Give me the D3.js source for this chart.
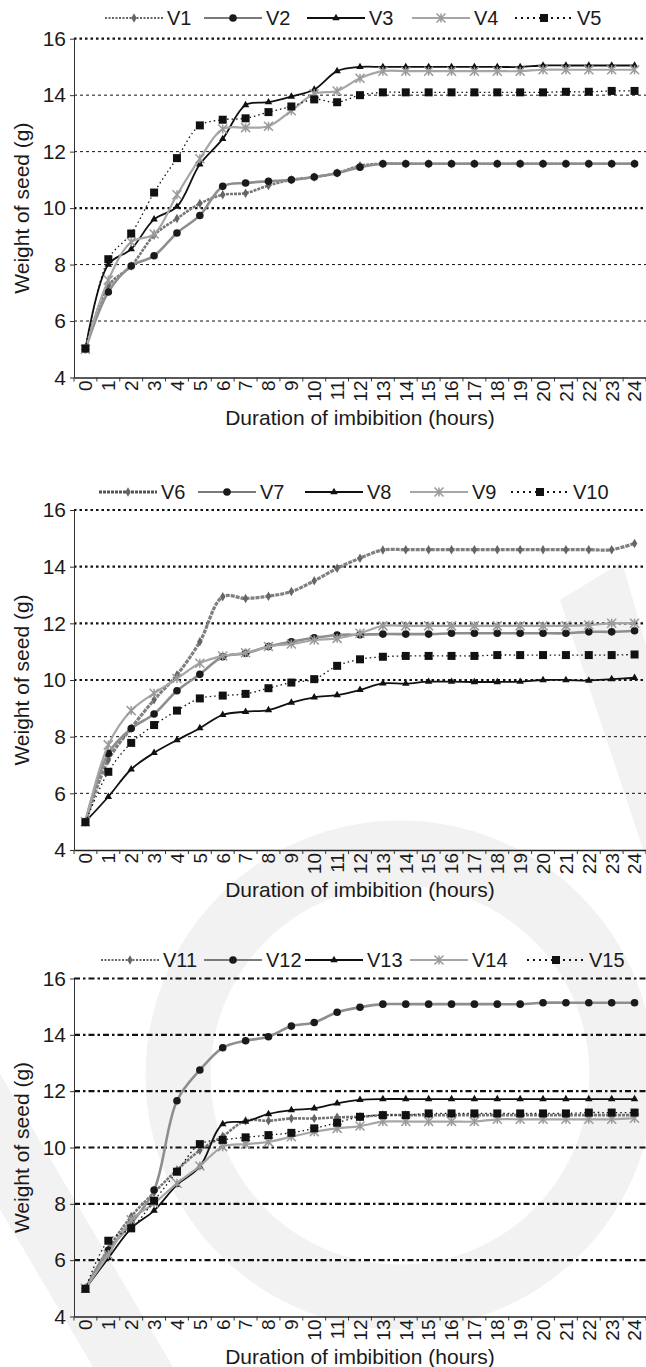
<!DOCTYPE html>
<html>
<head>
<meta charset="utf-8">
<script src="https://cdn.jsdelivr.net/npm/d3@7"></script>
<style>
    body { margin: 0; background: #fff; }
    svg { display: block; font-family: "Liberation Sans", Arial, sans-serif; }
</style>
</head>
<body>
<svg id="chart" width="646" height="1367"></svg>
<script>
// categories (hours of imbibition) and y ticks
const hours = ["0","1","2","3","4","5","6","7","8","9","10","11","12","13","14","15","16","17","18","19","20","21","22","23","24"];
const yTicks = [4, 6, 8, 10, 12, 14, 16];

// panel 1
const v1 = [5, 7.25, 7.95, 9.04, 9.63, 10.16, 10.47, 10.53, 10.8, 11.0, 11.1, 11.24, 11.5, 11.57, 11.57, 11.57, 11.57, 11.57, 11.57, 11.57, 11.57, 11.57, 11.57, 11.57, 11.57];
const v2 = [5, 7.03, 7.95, 8.31, 9.12, 9.74, 10.77, 10.89, 10.95, 11.0, 11.1, 11.24, 11.45, 11.57, 11.57, 11.57, 11.57, 11.57, 11.57, 11.57, 11.57, 11.57, 11.57, 11.57, 11.57];
const v3 = [5, 8.0, 8.55, 9.6, 10.05, 11.55, 12.45, 13.65, 13.75, 13.95, 14.2, 14.85, 15.0, 15.0, 15.0, 15.0, 15.0, 15.0, 15.0, 15.0, 15.05, 15.05, 15.05, 15.05, 15.05];
const v4 = [5, 7.45, 8.8, 9.08, 10.47, 11.75, 12.8, 12.85, 12.9, 13.45, 14.05, 14.15, 14.6, 14.85, 14.85, 14.85, 14.85, 14.85, 14.85, 14.85, 14.9, 14.9, 14.9, 14.9, 14.9];
const v5 = [5.03, 8.19, 9.1, 10.55, 11.77, 12.93, 13.13, 13.18, 13.4, 13.6, 13.85, 13.75, 14.0, 14.1, 14.1, 14.1, 14.1, 14.1, 14.1, 14.1, 14.1, 14.12, 14.12, 14.15, 14.15];

// panel 2
const v6 = [5, 7.18, 8.3, 9.3, 10.18, 11.35, 12.94, 12.88, 12.96, 13.12, 13.5, 13.94, 14.3, 14.59, 14.6, 14.6, 14.6, 14.6, 14.6, 14.6, 14.6, 14.6, 14.6, 14.6, 14.82];
const v7 = [5, 7.41, 8.29, 8.8, 9.62, 10.2, 10.82, 10.94, 11.18, 11.35, 11.49, 11.59, 11.6, 11.62, 11.62, 11.62, 11.65, 11.65, 11.65, 11.65, 11.65, 11.65, 11.7, 11.7, 11.74];
const v8 = [5, 5.88, 6.85, 7.43, 7.88, 8.3, 8.77, 8.88, 8.94, 9.2, 9.39, 9.47, 9.65, 9.88, 9.87, 9.94, 9.94, 9.93, 9.93, 9.94, 10.0, 10.0, 9.98, 10.03, 10.08];
const v9 = [5, 7.71, 8.92, 9.53, 10.05, 10.59, 10.85, 10.96, 11.18, 11.27, 11.41, 11.47, 11.65, 11.91, 11.91, 11.91, 11.91, 11.91, 11.91, 11.91, 11.91, 11.91, 11.94, 12.0, 12.0];
const v10 = [4.98, 6.76, 7.78, 8.41, 8.92, 9.35, 9.45, 9.51, 9.71, 9.91, 10.03, 10.5, 10.73, 10.82, 10.85, 10.85, 10.85, 10.85, 10.88, 10.88, 10.88, 10.88, 10.88, 10.88, 10.9];

// panel 3
const v11 = [5, 6.4, 7.55, 8.4, 9.2, 9.9, 10.4, 10.95, 10.95, 11.03, 11.03, 11.07, 11.09, 11.15, 11.15, 11.15, 11.15, 11.15, 11.15, 11.15, 11.15, 11.15, 11.15, 11.15, 11.15];
const v12 = [5, 6.35, 7.3, 8.49, 11.66, 12.75, 13.54, 13.79, 13.93, 14.31, 14.44, 14.8, 14.98, 15.09, 15.09, 15.09, 15.09, 15.09, 15.09, 15.09, 15.14, 15.14, 15.14, 15.14, 15.14];
const v13 = [5, 6.07, 7.13, 7.76, 8.67, 9.32, 10.83, 10.92, 11.19, 11.33, 11.39, 11.57, 11.69, 11.72, 11.72, 11.72, 11.72, 11.72, 11.72, 11.72, 11.72, 11.72, 11.72, 11.72, 11.72];
const v14 = [5, 6.2, 7.43, 8.02, 8.73, 9.34, 10.03, 10.12, 10.2, 10.38, 10.56, 10.68, 10.76, 10.92, 10.92, 10.92, 10.92, 10.92, 11.0, 11.0, 11.0, 11.0, 11.0, 11.0, 11.04];
const v15 = [4.98, 6.69, 7.13, 8.11, 9.14, 10.12, 10.27, 10.36, 10.44, 10.52, 10.68, 10.88, 11.09, 11.15, 11.15, 11.21, 11.21, 11.21, 11.21, 11.21, 11.21, 11.21, 11.24, 11.24, 11.24];

const names1 = ["V1", "V2", "V3", "V4", "V5"];
const names2 = ["V6", "V7", "V8", "V9", "V10"];
const names3 = ["V11", "V12", "V13", "V14", "V15"];

const plotLeft = 74, plotRight = 646;

const panels = [
    { names: names1, values: [v1, v2, v3, v4, v5], top: 38.7, bottom: 377.5, legendY: 18,
      legendX: [105, 204, 307, 412, 515], boldGrid: [16, 10], gridKind: "dot", heavyFirst: false },
    { names: names2, values: [v6, v7, v8, v9, v10], top: 510, bottom: 850, legendY: 492,
      legendX: [99, 198, 305, 410, 511], boldGrid: [16, 14, 12, 10], gridKind: "dot", heavyFirst: true },
    { names: names3, values: [v11, v12, v13, v14, v15], top: 978.5, bottom: 1316.5, legendY: 960,
      legendX: [101, 204, 305, 410, 527], boldGrid: [16, 14, 12, 10, 8, 6], gridKind: "dashdot", heavyFirst: false }
];

// one look per series slot (same in every panel)
const looks = [
    { stroke: "#777", width: 2.6, dash: "3,1", legendStroke: "#333", legendWidth: 1.5, legendDash: "2,1.5", marker: "diamond", fill: "#666" },
    { stroke: "#8e8e8e", width: 2.6, dash: null, legendStroke: "#7a7a7a", legendWidth: 2.2, legendDash: null, marker: "circle", fill: "#1a1a1a" },
    { stroke: "#111", width: 1.8, dash: null, legendStroke: "#111", legendWidth: 2.2, legendDash: null, marker: "triangle", fill: "#111" },
    { stroke: "#a6a6a6", width: 2.2, dash: null, legendStroke: "#a6a6a6", legendWidth: 2.2, legendDash: null, marker: "star", fill: "#9a9a9a" },
    { stroke: "#111", width: 1.3, dash: "1.5,3", legendStroke: "#111", legendWidth: 2, legendDash: "2,4", marker: "square", fill: "#111" }
];

const svg = d3.select("#chart");

// faint watermark behind the charts
const wm = svg.append("g").attr("fill", "#f2f2f2");
wm.append("circle")
    .attr("cx", 400).attr("cy", 1075).attr("r", 222)
    .attr("fill", "none").attr("stroke", "#f2f2f2").attr("stroke-width", 65);
wm.append("polygon").attr("points", "560,600 622,562 720,900 660,900");
wm.append("polygon").attr("points", "-200,870 -120,870 173,1367 93,1367");

function drawMarker(g, kind, x, y, fill) {
    if (kind === "circle") {
        g.append("circle").attr("cx", x).attr("cy", y).attr("r", 3.8).attr("fill", fill);
    } else if (kind === "square") {
        g.append("rect").attr("x", x - 4).attr("y", y - 4).attr("width", 8).attr("height", 8).attr("fill", fill);
    } else if (kind === "triangle") {
        g.append("path").attr("transform", `translate(${x},${y})`)
            .attr("d", d3.symbol(d3.symbolTriangle, 24)()).attr("fill", fill);
    } else if (kind === "diamond") {
        g.append("path").attr("transform", `translate(${x},${y})`)
            .attr("d", d3.symbol(d3.symbolDiamond, 26)()).attr("fill", fill);
    } else if (kind === "star") {
        const s = 4.5;
        g.append("path")
            .attr("d", `M${x - s},${y - s}L${x + s},${y + s}M${x - s},${y + s}L${x + s},${y - s}M${x},${y - s}L${x},${y + s}`)
            .attr("stroke", fill).attr("stroke-width", 1.5).attr("fill", "none");
    }
}

function drawPanel(p) {
    const x = d3.scaleBand().domain(hours).range([plotLeft, plotRight]);
    const cx = h => x(h) + x.bandwidth() / 2;
    const y = d3.scaleLinear().domain([4, 16]).range([p.bottom, p.top]);
    const g = svg.append("g");

    // gridlines
    g.selectAll(".grid")
        .data(yTicks.filter(v => v > 4))
        .enter()
        .append("line")
        .attr("x1", plotLeft)
        .attr("x2", plotRight)
        .attr("y1", d => y(d))
        .attr("y2", d => y(d))
        .attr("stroke", "#111")
        .attr("stroke-width", d => p.boldGrid.includes(d) ? 2.2 : 1)
        .attr("stroke-dasharray", d => {
            if (p.gridKind === "dashdot") return "6,3,2.5,3";
            return p.boldGrid.includes(d) ? "2.5,3" : "3,3";
        });

    // y axis
    const yAxis = d3.axisLeft(y).tickValues(yTicks).tickSize(4).tickPadding(4).tickSizeOuter(0);
    const ya = g.append("g").attr("transform", `translate(${plotLeft},0)`).call(yAxis);
    ya.select(".domain").attr("stroke", "#333");
    ya.selectAll(".tick line").attr("stroke", "#333");
    ya.selectAll("text").attr("font-size", 21).attr("fill", "#1a1a1a").attr("font-family", "Liberation Sans, Arial, sans-serif");

    // x axis with ticks between categories
    const xAxis = d3.axisBottom(x).tickSize(0).tickSizeOuter(0);
    const xa = g.append("g").attr("transform", `translate(0,${p.bottom})`).call(xAxis);
    xa.select(".domain").attr("stroke", "#222").attr("stroke-width", 1.5);
    xa.selectAll("text")
        .attr("font-size", 19)
        .attr("fill", "#1a1a1a")
        .attr("font-family", "Liberation Sans, Arial, sans-serif")
        .attr("transform", "rotate(-90)")
        .attr("text-anchor", "end")
        .attr("x", -3)
        .attr("y", 0)
        .attr("dy", "0.36em");
    xa.selectAll(".edge")
        .data(hours.concat(["end"]))
        .enter()
        .append("line")
        .attr("x1", (d, i) => plotLeft + i * x.bandwidth())
        .attr("x2", (d, i) => plotLeft + i * x.bandwidth())
        .attr("y1", 0)
        .attr("y2", 4)
        .attr("stroke", "#333");

    // axis titles
    g.append("text")
        .attr("transform", `translate(22,${(p.top + p.bottom) / 2}) rotate(-90)`)
        .attr("text-anchor", "middle")
        .attr("dy", "0.35em")
        .attr("font-size", 21)
        .attr("fill", "#1a1a1a")
        .text("Weight of seed (g)");
    g.append("text")
        .attr("x", (plotLeft + plotRight) / 2)
        .attr("y", p.bottom + 47)
        .attr("text-anchor", "middle")
        .attr("font-size", 21)
        .attr("fill", "#1a1a1a")
        .text("Duration of imbibition (hours)");

    // series
    const line = d3.line()
        .x((d, i) => cx(hours[i]))
        .y(d => y(d))
        .curve(d3.curveCatmullRom.alpha(0.5));

    p.values.forEach((vals, k) => {
        const look = looks[k];
        const heavy = k === 0 && p.heavyFirst;
        g.append("path")
            .attr("d", line(vals))
            .attr("fill", "none")
            .attr("stroke", heavy ? "#808080" : look.stroke)
            .attr("stroke-width", heavy ? 3.2 : look.width)
            .attr("stroke-dasharray", heavy ? "4,1" : look.dash);
        const mg = g.append("g");
        vals.forEach((v, i) => drawMarker(mg, look.marker, cx(hours[i]), y(v), look.fill));
    });

    // legend
    const lg = g.append("g");
    p.names.forEach((name, k) => {
        const look = looks[k];
        const heavy = k === 0 && p.heavyFirst;
        const x0 = p.legendX[k];
        lg.append("line")
            .attr("x1", x0).attr("x2", x0 + 58)
            .attr("y1", p.legendY).attr("y2", p.legendY)
            .attr("stroke", heavy ? "#555" : look.legendStroke)
            .attr("stroke-width", heavy ? 3 : look.legendWidth)
            .attr("stroke-dasharray", heavy ? "3,1" : look.legendDash);
        drawMarker(lg, look.marker, x0 + 29, p.legendY, look.fill);
        lg.append("text")
            .attr("x", x0 + 62)
            .attr("y", p.legendY)
            .attr("dy", "0.36em")
            .attr("font-size", 20)
            .attr("fill", "#1a1a1a")
            .text(name);
    });
}

panels.forEach(drawPanel);
</script>
</body>
</html>
